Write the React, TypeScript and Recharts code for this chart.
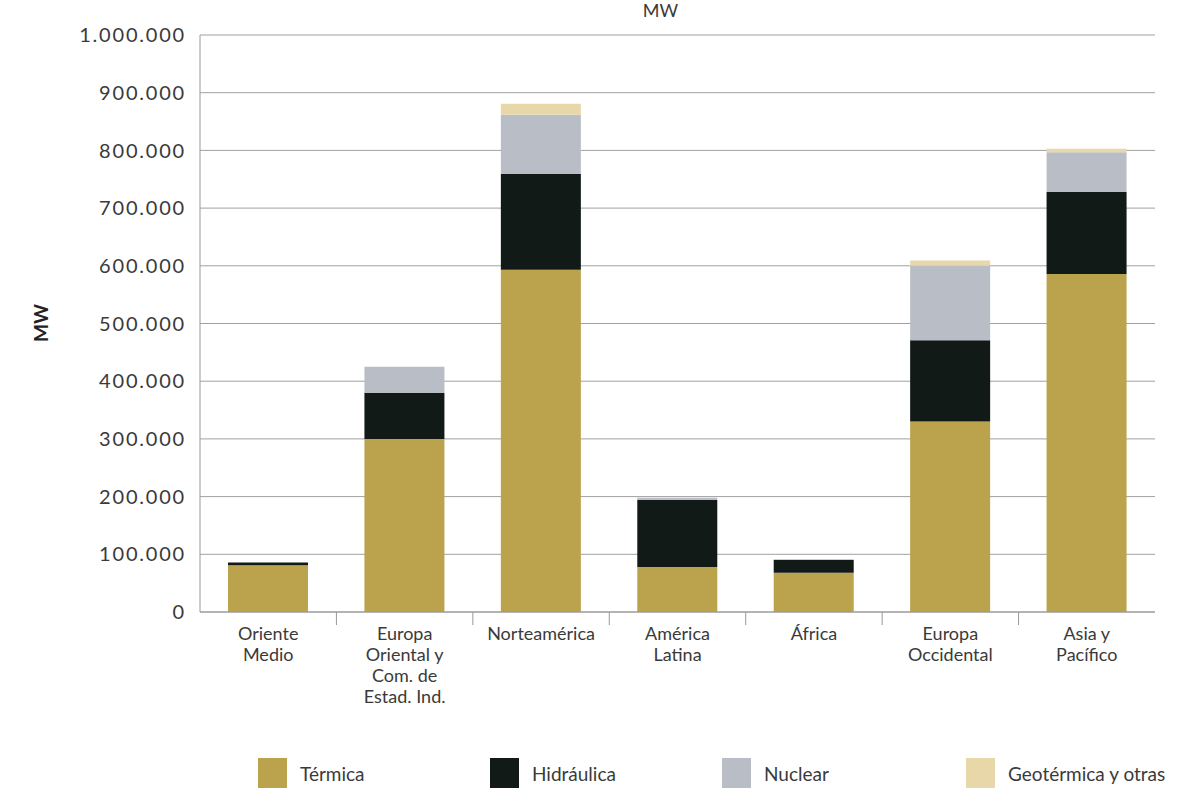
import React from 'react';
import { BarChart, Bar, XAxis, YAxis, CartesianGrid } from 'recharts';

// ─── Data ─────────────────────────────

const regions = [
  'Oriente Medio',
  'Europa Oriental y Com. de Estad. Ind.',
  'Norteamérica',
  'América Latina',
  'África',
  'Europa Occidental',
  'Asia y Pacífico',
];

const regionLines = [
  ['Oriente', 'Medio'],
  ['Europa', 'Oriental y', 'Com. de', 'Estad. Ind.'],
  ['Norteamérica'],
  ['América', 'Latina'],
  ['África'],
  ['Europa', 'Occidental'],
  ['Asia y', 'Pacífico'],
];

const termica = [81000, 300000, 593000, 78000, 68000, 330000, 586000];
const hidraulica = [5000, 80000, 166000, 116000, 22000, 141000, 142000];
const nuclear = [0, 45000, 103000, 4000, 1500, 129000, 69000];
const geotermica = [0, 0, 19000, 0, 0, 9000, 6000];

const yTicks = [0, 100000, 200000, 300000, 400000, 500000, 600000, 700000, 800000, 900000, 1000000];

const series = [
  { key: 'termica', name: 'Térmica', color: '#bba24c' },
  { key: 'hidraulica', name: 'Hidráulica', color: '#111a17' },
  { key: 'nuclear', name: 'Nuclear', color: '#b9bdc5' },
  { key: 'geotermica', name: 'Geotérmica y otras', color: '#e8d7a9' },
];

const data = regions.map((r, i) => ({
  region: r,
  termica: termica[i],
  hidraulica: hidraulica[i],
  nuclear: nuclear[i],
  geotermica: geotermica[i],
}));

// ─── Helpers ─────────────────────────────

const FONT = 'Lato, "DejaVu Sans", sans-serif';
const TEXT = '#3a3a3a';
const W = 1186;
const H = 790;
const PLOT_LEFT = 200;
const PLOT_RIGHT = 1155;
const PLOT_TOP = 35;
const PLOT_BOTTOM = 612;
const X_AXIS_H = 30;
const BAND = (PLOT_RIGHT - PLOT_LEFT) / regions.length;

function fmt(v: number): string {
  return String(v).replace(/\B(?=(\d{3})+(?!\d))/g, '.');
}

function RegionTick(props: any) {
  const { x, index } = props;
  const lines = regionLines[index] ?? [];
  const axisY = PLOT_BOTTOM;
  return (
    <g>
      {index > 0 && (
        <line x1={x - BAND / 2} x2={x - BAND / 2} y1={axisY} y2={axisY + 13} stroke="#999" />
      )}
      <text x={x} y={axisY} textAnchor="middle" fill={TEXT} fontFamily={FONT} fontSize={18}>
        {lines.map((l, i) => (
          <tspan key={i} x={x} dy={i === 0 ? 28 : 21}>
            {l}
          </tspan>
        ))}
      </text>
    </g>
  );
}

// ─── Component ───────────────────────────

export default function App() {
  return (
    <div style={{ position: 'absolute', left: 0, top: 0, width: W, height: H, background: '#fff' }}>
      <div
        style={{
          position: 'absolute',
          left: 0,
          width: W,
          top: 0,
          lineHeight: '20px',
          textAlign: 'center',
          paddingLeft: 135,
          boxSizing: 'border-box',
          fontFamily: FONT,
          fontSize: 18,
          color: TEXT,
        }}
      >
        MW
      </div>
      <div
        style={{
          position: 'absolute',
          left: 40,
          top: 323,
          transform: 'translate(-50%, -50%) rotate(-90deg)',
          fontFamily: FONT,
          fontWeight: 700,
          fontSize: 19,
          color: '#222',
        }}
      >
        MW
      </div>
      <BarChart
        width={W}
        height={H}
        data={data}
        margin={{ top: PLOT_TOP, right: W - PLOT_RIGHT, left: 0, bottom: H - PLOT_BOTTOM - X_AXIS_H }}
        barSize={80}
      >
        <CartesianGrid vertical={false} stroke="#a0a0a0" />
        <XAxis
          dataKey="region"
          height={X_AXIS_H}
          tick={<RegionTick />}
          tickLine={false}
          axisLine={{ stroke: '#999' }}
          interval={0}
        />
        <YAxis
          width={PLOT_LEFT}
          domain={[0, 1000000]}
          ticks={yTicks}
          tickFormatter={fmt}
          tickLine={false}
          tickMargin={8}
          axisLine={{ stroke: '#999' }}
          tick={{ fill: TEXT, fontSize: 20, fontFamily: FONT, letterSpacing: 1.8 }}
        />
        <YAxis
          yAxisId="right"
          orientation="right"
          width={0}
          domain={[0, 1000000]}
          tick={false}
          tickLine={false}
          axisLine={{ stroke: '#999' }}
        />
        {series.map((s) => (
          <Bar
            key={s.key}
            dataKey={s.key}
            name={s.name}
            stackId="a"
            fill={s.color}
            isAnimationActive={false}
          />
        ))}
      </BarChart>
      {/* Legend */}
      {series.map((s, i) => (
        <div
          key={s.key}
          style={{
            position: 'absolute',
            left: [258, 490, 722, 966][i],
            top: 758,
            display: 'flex',
            alignItems: 'center',
            fontFamily: FONT,
            fontSize: 19,
            color: TEXT,
          }}
        >
          <span style={{ width: 29, height: 30, background: s.color, display: 'inline-block', marginRight: 13 }} />
          {s.name}
        </div>
      ))}
    </div>
  );
}
